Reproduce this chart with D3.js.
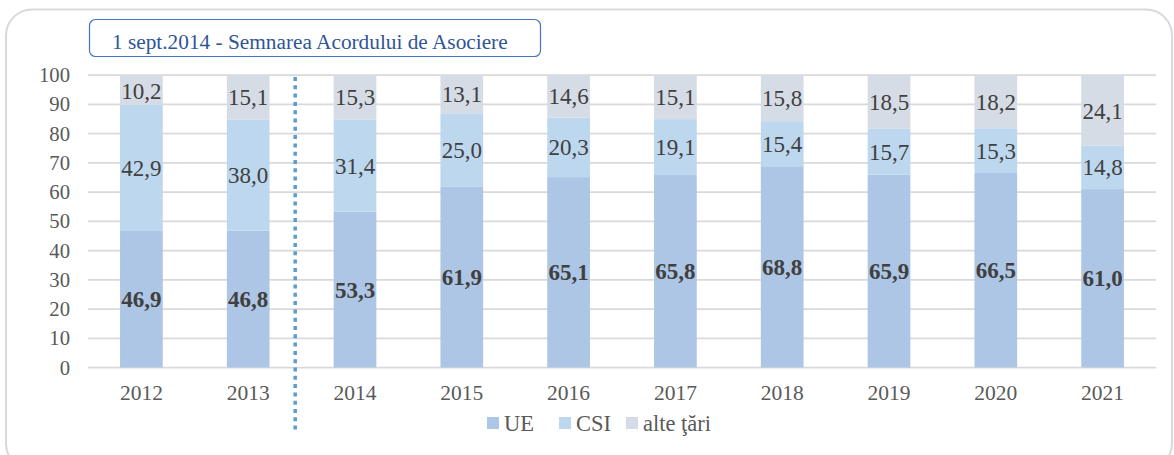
<!DOCTYPE html>
<html>
<head>
<meta charset="utf-8">
<script src="https://cdn.jsdelivr.net/npm/d3@7"></script>
<style>
  body { margin: 0; background: #fff; }
  svg { display: block; }
  svg text { font-family: "Liberation Serif", "DejaVu Serif", serif; }
</style>
</head>
<body>
<div id="chart"></div>
<script>
var width = 1174;
var height = 455;
var margin = {top: 75, left: 88, right: 18, bottom: 87};

// data
var years = ["2012", "2013", "2014", "2015", "2016", "2017", "2018", "2019", "2020", "2021"];
var ue    = [46.9, 46.8, 53.3, 61.9, 65.1, 65.8, 68.8, 65.9, 66.5, 61.0];
var csi   = [42.9, 38.0, 31.4, 25.0, 20.3, 19.1, 15.4, 15.7, 15.3, 14.8];
var alte  = [10.2, 15.1, 15.3, 13.1, 14.6, 15.1, 15.8, 18.5, 18.2, 24.1];
var seriesNames = ["UE", "CSI", "alte ţări"];
var yTicks = [0, 10, 20, 30, 40, 50, 60, 70, 80, 90, 100];
var annotation = "1 sept.2014 - Semnarea Acordului de Asociere";

var colors = ["#adc6e6", "#bdd7ee", "#d6dce5"];

var rows = years.map(function(y, i) {
  return {year: y, UE: ue[i], CSI: csi[i], "alte ţări": alte[i]};
});

var svg = d3.select("#chart")
  .append("svg")
  .attr("width", width)
  .attr("height", height)
  .attr("font-family", "Liberation Serif, serif");

// outer frame
svg.append("rect")
  .attr("x", 6).attr("y", 9.5)
  .attr("width", 1166).attr("height", 460)
  .attr("rx", 26)
  .attr("fill", "none")
  .attr("stroke", "#d9d9d9")
  .attr("stroke-width", 2);

var xScale = d3.scaleBand()
  .domain(years)
  .range([margin.left, width - margin.right])
  .paddingInner(0.6)
  .paddingOuter(0.3);

var yScale = d3.scaleLinear()
  .domain([0, 100])
  .range([height - margin.bottom - 0.5, margin.top]);

// gridlines
svg.append("g")
  .selectAll("line")
  .data(yTicks)
  .enter()
    .append("line")
      .attr("x1", margin.left)
      .attr("x2", width - margin.right)
      .attr("y1", function(d){ return yScale(d); })
      .attr("y2", function(d){ return yScale(d); })
      .attr("stroke", "#d9d9d9")
      .attr("stroke-width", 1.75);

// y tick labels
svg.append("g")
  .selectAll("text")
  .data(yTicks)
  .enter()
    .append("text")
      .attr("x", 70)
      .attr("y", function(d){ return yScale(d); })
      .attr("dy", "0.35em")
      .attr("text-anchor", "end")
      .attr("font-size", 20.7)
      .attr("fill", "#595959")
      .text(function(d){ return d; });

// x tick labels
svg.append("g")
  .selectAll("text")
  .data(years)
  .enter()
    .append("text")
      .attr("x", function(d){ return xScale(d) + xScale.bandwidth() / 2; })
      .attr("y", yScale(0) + 25)
      .attr("dy", "0.35em")
      .attr("text-anchor", "middle")
      .attr("font-size", 21.5)
      .attr("fill", "#595959")
      .text(function(d){ return d; });

var stacked = d3.stack().keys(seriesNames)(rows);

var layers = svg.append("g")
  .selectAll("g")
  .data(stacked)
  .enter()
    .append("g")
      .attr("fill", function(d, i){ return colors[i]; });

layers.selectAll("rect")
  .data(function(d){ return d; })
  .enter()
    .append("rect")
      .attr("x", function(d){ return xScale(d.data.year); })
      .attr("y", function(d){ return yScale(d[1]); })
      .attr("width", xScale.bandwidth())
      .attr("height", function(d){ return yScale(d[0]) - yScale(d[1]); });

// data labels
var fmt = function(v){ return v.toFixed(1).replace(".", ","); };
stacked.forEach(function(layer, li) {
  svg.append("g")
    .selectAll("text")
    .data(layer)
    .enter()
      .append("text")
        .attr("x", function(d){ return xScale(d.data.year) + xScale.bandwidth() / 2; })
        .attr("y", function(d){
          var c = yScale((d[0] + d[1]) / 2);
          return Math.max(c, yScale(100) + 16);
        })
        .attr("dy", "0.35em")
        .attr("text-anchor", "middle")
        .attr("font-size", 23)
        .attr("font-weight", li === 0 ? "bold" : "normal")
        .attr("fill", "#404040")
        .text(function(d){ return fmt(d[1] - d[0]); });
});

// separator: signing of Association Agreement
var sepX = xScale("2013") + xScale.bandwidth() + xScale.step() * xScale.paddingInner() * 0.4;
svg.append("line")
  .attr("x1", sepX).attr("x2", sepX)
  .attr("y1", yScale(100) + 2)
  .attr("y2", 432)
  .attr("stroke", "#5b9bd5")
  .attr("stroke-width", 3.5)
  .attr("stroke-dasharray", "4,4.3");

// annotation box
svg.append("rect")
  .attr("x", 89.5).attr("y", 19.5)
  .attr("width", 451).attr("height", 37)
  .attr("rx", 6)
  .attr("fill", "#fff")
  .attr("stroke", "#4472c4")
  .attr("stroke-width", 1.2);

svg.append("text")
  .attr("x", 112)
  .attr("y", 49)
  .attr("font-size", 21.3)
  .attr("fill", "#2f5597")
  .text(annotation);

// legend
var legendX = [487, 559, 626];
var legend = svg.append("g")
  .selectAll("g")
  .data(seriesNames)
  .enter()
    .append("g")
      .attr("transform", function(d, i){ return "translate(" + legendX[i] + ",417)"; });

legend.append("rect")
  .attr("width", 12)
  .attr("height", 12)
  .attr("fill", function(d, i){ return colors[i]; });

legend.append("text")
  .attr("x", 17)
  .attr("y", 6)
  .attr("dy", "0.35em")
  .attr("font-size", 22.5)
  .attr("fill", "#595959")
  .text(function(d){ return d; });
</script>
</body>
</html>
